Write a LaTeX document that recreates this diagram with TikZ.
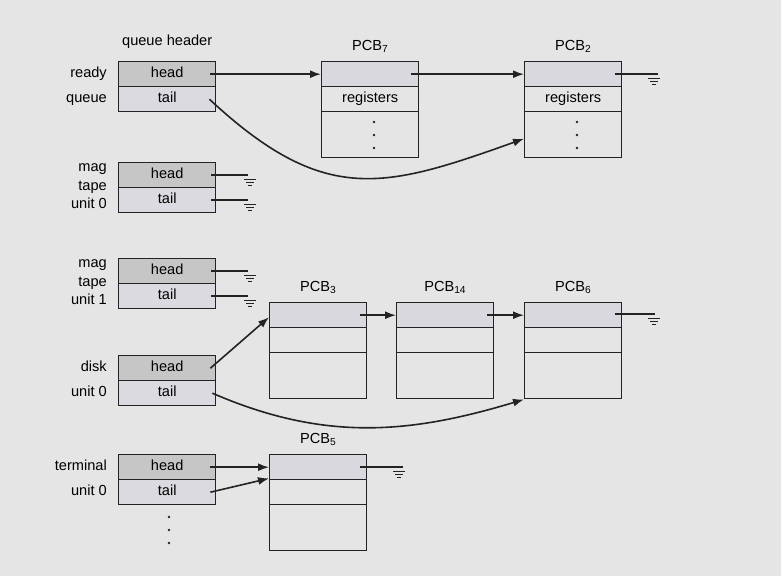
\documentclass[tikz,border=0pt]{standalone}
\usepackage{fontspec}
\setmainfont{Liberation Sans}
\usetikzlibrary{arrows.meta}
\definecolor{bg}{RGB}{229,229,229}
\definecolor{headfill}{RGB}{198,198,198}
\definecolor{tailfill}{RGB}{218,218,224}
\definecolor{pcbtop}{RGB}{216,216,222}
\definecolor{linec}{RGB}{35,35,35}
\tikzset{
  cell/.style={draw=linec, line width=1.4pt, minimum width=97pt, minimum height=25pt,
    inner sep=0pt, anchor=north west, text height=10pt, text depth=3pt},
  hcell/.style={cell, fill=headfill},
  tcell/.style={cell, fill=tailfill},
  pcella/.style={cell, fill=pcbtop},
  pcellb/.style={cell},
  pcellc/.style={cell, minimum height=46pt},
  lbl/.style={anchor=east, inner sep=0pt, text height=10pt, text depth=3pt},
  ttl/.style={anchor=base, inner sep=0pt},
  conn/.style={draw=linec, line width=1.6pt},
  arr/.style={conn, -{Latex[length=11pt,width=8pt]}},
  gnd/.pic={\draw[linec, line width=1.4pt] (-6,4)--(6,4) (-4,7)--(4,7) (-2,10)--(2,10);},
  dotc/.style={circle, fill=linec, inner sep=0pt, minimum size=2.8pt}
}
\begin{document}
\begin{tikzpicture}[x=1pt,y=-1pt, font=\fontsize{14.6}{16}\selectfont]
\fill[bg] (0,0) rectangle (781,576);
\useasboundingbox (0,0) rectangle (781,576);

% ---- queue headers ----
\node[hcell] (rh) at (118,61) {head};
\node[tcell] (rt) at (118,86) {tail};
\node[ttl] (qh) at ([yshift=16pt]rh.north) {queue header};
\node[lbl] (l1) at (107,73.5) {ready};
\node[lbl] (l2) at (107,98.5) {queue};

\node[hcell] (m0h) at (118,162) {head};
\node[tcell] (m0t) at (118,187) {tail};
\node[lbl] (l3) at (107,168) {mag};
\node[lbl] (l4) at (107,186.5) {tape};
\node[lbl] (l5) at (107,205) {unit 0};

\node[hcell] (m1h) at (118,258) {head};
\node[tcell] (m1t) at (118,283) {tail};
\node[lbl] (l6) at (107,264) {mag};
\node[lbl] (l7) at (107,282.5) {tape};
\node[lbl] (l8) at (107,301) {unit 1};

\node[hcell] (dh) at (118,355) {head};
\node[tcell] (dt) at (118,380) {tail};
\node[lbl] (l9) at (107,367.5) {disk};
\node[lbl] (l10) at (107,392.5) {unit 0};

\node[hcell] (th) at (118,454) {head};
\node[tcell] (tt) at (118,479) {tail};
\node[lbl] (l11) at (107,466.5) {terminal};
\node[lbl] (l12) at (107,491.5) {unit 0};

\node[dotc] (td1) at (169,517) {};
\node[dotc] (td2) at (169,530) {};
\node[dotc] (td3) at (169,543) {};

% ---- PCBs row 1 ----
\node[pcella] (p7a) at (321,61) {};
\node[pcellb] (p7b) at (321,86) {registers};
\node[pcellc] (p7c) at (321,111) {};
\node[ttl] (t7) at ([yshift=11pt]p7a.north) {PCB\textsubscript{7}};
\node[dotc] (d71) at (374,122) {};
\node[dotc] (d72) at (374,135) {};
\node[dotc] (d73) at (374,148) {};

\node[pcella] (p2a) at (524,61) {};
\node[pcellb] (p2b) at (524,86) {registers};
\node[pcellc] (p2c) at (524,111) {};
\node[ttl] (t2) at ([yshift=11pt]p2a.north) {PCB\textsubscript{2}};
\node[dotc] (d21) at (577,122) {};
\node[dotc] (d22) at (577,135) {};
\node[dotc] (d23) at (577,148) {};

% ---- PCBs row 2 ----
\node[pcella] (p3a) at (269,302) {};
\node[pcellb] (p3b) at (269,327) {};
\node[pcellc] (p3c) at (269,352) {};
\node[ttl] (t3) at ([yshift=11pt]p3a.north) {PCB\textsubscript{3}};

\node[pcella] (p14a) at (396,302) {};
\node[pcellb] (p14b) at (396,327) {};
\node[pcellc] (p14c) at (396,352) {};
\node[ttl] (t14) at ([yshift=11pt]p14a.north) {PCB\textsubscript{14}};

\node[pcella] (p6a) at (524,302) {};
\node[pcellb] (p6b) at (524,327) {};
\node[pcellc] (p6c) at (524,352) {};
\node[ttl] (t6) at ([yshift=11pt]p6a.north) {PCB\textsubscript{6}};

% ---- PCB row 3 ----
\node[pcella] (p5a) at (269,454) {};
\node[pcellb] (p5b) at (269,479) {};
\node[pcellc] (p5c) at (269,504) {};
\node[ttl] (t5) at ([yshift=11pt]p5a.north) {PCB\textsubscript{5}};

% ---- connectors ----
\draw[arr] ([xshift=-6pt]rh.east) -- (p7a.west);
\draw[arr] ([xshift=-8pt]p7a.east) -- (p2a.west);
\draw[conn] ([xshift=-7pt]p2a.east) -- ++(43,0) coordinate (g2);
\pic at ([xshift=-4pt]g2) {gnd};
\draw[arr] ([xshift=-7pt]rt.east) .. controls +(115,107) and +(-140,50) .. ([yshift=-4pt]p2c.west);

\draw[conn] ([xshift=-5pt]m0h.east) -- ++(37,0) coordinate (g3);
\pic at ([xshift=2pt]g3) {gnd};
\draw[conn] ([xshift=-5pt]m0t.east) -- ++(37,0) coordinate (g4);
\pic at ([xshift=2pt]g4) {gnd};
\draw[conn] ([xshift=-5pt]m1h.east) -- ++(37,0) coordinate (g5);
\pic at ([xshift=2pt]g5) {gnd};
\draw[conn] ([xshift=-5pt]m1t.east) -- ++(37,0) coordinate (g6);
\pic at ([xshift=2pt]g6) {gnd};

\draw[arr] ([xshift=-6pt]dh.east) -- ([yshift=-2pt]p3a.west);
\draw[arr] ([xshift=-7pt]p3a.east) -- (p14a.west);
\draw[arr] ([xshift=-7pt]p14a.east) -- (p6a.west);
\draw[conn] ([xshift=-7pt]p6a.east) ++(0,-1) -- ++(40,0) coordinate (g7);
\pic at ([xshift=-1pt]g7) {gnd};
\draw[arr] ([xshift=-4pt]dt.east) .. controls +(113,49) and +(-113,34) .. (p6c.south west);

\draw[arr] ([xshift=-6pt]th.east) -- (p5a.west);
\draw[arr] ([xshift=-6pt]tt.east) -- ([yshift=2pt]p5a.south west);
\draw[conn] ([xshift=-7pt]p5a.east) -- ++(43,0) coordinate (g8);
\pic at ([xshift=-4pt]g8) {gnd};
\end{tikzpicture}
\end{document}
